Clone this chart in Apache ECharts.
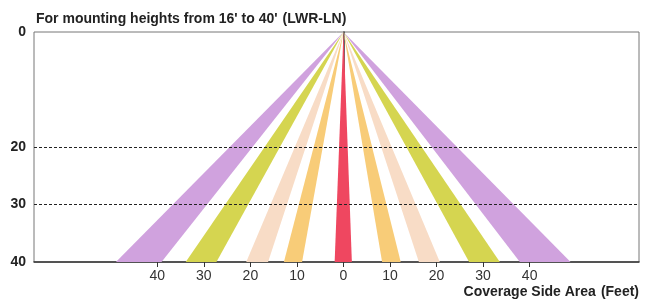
<!DOCTYPE html>
<html>
<head>
<meta charset="utf-8">
<script src="https://cdn.jsdelivr.net/npm/echarts@6/dist/echarts.min.js"></script>
<style>
  html, body { margin: 0; padding: 0; background: #fff; }
  #main { width: 648px; height: 303px; }
</style>
</head>
<body>
<div id="main"></div>
<script>
// beam edges at 40 ft height (side distance, feet); apex is at 0,0
var bandLeft  = [-48.9, -33.9, -20.9, -12.8, -1.9, 8.3, 16.2, 27.0, 37.9];
var bandRight = [-39.1, -27.3, -16.2, -8.9, 1.8, 12.3, 20.7, 33.6, 48.8];
var bandColor = ['#d0a2de', '#d5d550', '#f8dcc6', '#f8cc78', '#ef4760',
                 '#f8cc78', '#f8dcc6', '#d5d550', '#d0a2de'];
var xTicks = [-40, -30, -20, -10, 0, 10, 20, 30, 40];
var yTicks = [0, 20, 30, 40];
var gridLines = [20, 30];
var apexHeight = 40;

var bandData = [];
for (var i = 0; i < bandLeft.length; i++) {
    bandData.push([bandLeft[i], bandRight[i], i]);
}

var font = 'Liberation Sans';
var myChart = echarts.init(document.getElementById('main'));

var option = {
    animation: false,
    title: [
        {
            text: "{b|For mounting heights from 16' to 40'} {n|(LWR-LN)}",
            left: 31, top: 5,
            textStyle: {
                rich: {
                    b: { fontFamily: font, fontWeight: 'bold', fontSize: 14, color: '#222' },
                    n: { fontFamily: font, fontSize: 14, color: '#222' }
                }
            }
        },
        {
            text: '{b|Coverage Side Area} {n|(Feet)}',
            right: 4, bottom: -3,
            textStyle: {
                rich: {
                    b: { fontFamily: font, fontWeight: 'bold', fontSize: 14, color: '#222' },
                    n: { fontFamily: font, fontSize: 14, color: '#222' }
                }
            }
        }
    ],
    grid: {
        left: 34, right: 9, top: 32, bottom: 41,
        show: true, borderColor: '#777', borderWidth: 1
    },
    xAxis: {
        type: 'value',
        min: -66.5, max: 63.5,
        axisLine: { show: true, onZero: false, lineStyle: { color: '#333', width: 1.5 } },
        axisTick: { show: true, customValues: xTicks, length: 5, lineStyle: { color: '#333' } },
        axisLabel: {
            customValues: xTicks,
            formatter: function (v) { return Math.abs(v); },
            fontFamily: font, fontSize: 14, color: '#333', margin: 7
        },
        splitLine: { show: false }
    },
    yAxis: {
        type: 'value',
        inverse: true,
        min: 0, max: 40,
        axisLine: { show: true, lineStyle: { color: '#333', width: 1.5 } },
        axisTick: { show: true, customValues: gridLines, length: 4, lineStyle: { color: '#333', type: 'dashed' } },
        axisLabel: {
            customValues: yTicks,
            fontFamily: font, fontWeight: 'bold', fontSize: 14, color: '#222', margin: 8
        },
        splitLine: { show: false }
    },
    series: [
        {
            type: 'custom',
            data: bandData,
            encode: { x: [0, 1] },
            renderItem: function (params, api) {
                var top = api.coord([0, 0]);
                var a = api.coord([api.value(0), apexHeight]);
                var b = api.coord([api.value(1), apexHeight]);
                return {
                    type: 'polygon',
                    shape: { points: [top, a, b] },
                    style: { fill: bandColor[api.value(2)] }
                };
            },
            markLine: {
                silent: true,
                symbol: 'none',
                label: { show: false },
                lineStyle: { color: '#222', type: [3, 2], width: 1 },
                data: gridLines.map(function (v) { return { yAxis: v }; })
            }
        }
    ]
};

myChart.setOption(option);
</script>
</body>
</html>
